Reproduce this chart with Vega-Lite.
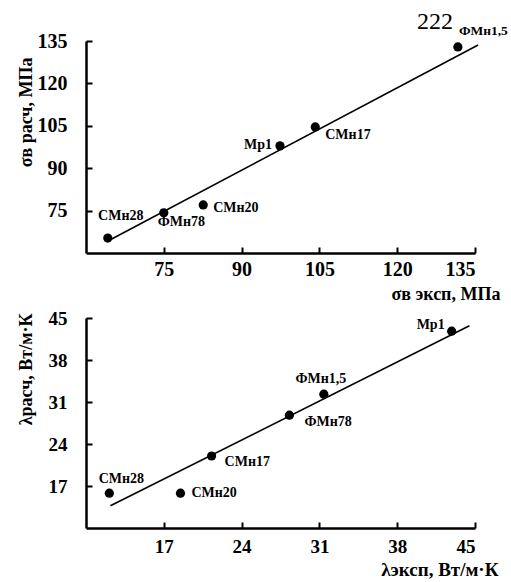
{
  "$schema": "https://vega.github.io/schema/vega-lite/v6.json",
  "padding": {"left": 16, "top": 9, "right": 0, "bottom": 2},
  "spacing": 6,
  "config": {
    "view": {"stroke": null},
    "font": "Liberation Serif",
    "axis": {
      "domainColor": "black", "domainWidth": 2.5, "tickColor": "black", "tickWidth": 2,
      "tickSize": -6, "labelColor": "black", "labelFont": "Liberation Serif", "labelFontWeight": "bold",
      "titleColor": "black", "titleFont": "Liberation Serif", "titleFontWeight": "bold", "grid": false
    },
    "text": {"font": "Liberation Serif", "fontWeight": "bold", "fontSize": 14, "color": "black", "baseline": "middle"}
  },
  "datasets": {
    "sig": [
      {"name": "СМн28", "exp": 64.2, "calc": 65.3},
      {"name": "ФМн78", "exp": 75.0, "calc": 74.2},
      {"name": "СМн20", "exp": 82.6, "calc": 77.0},
      {"name": "Мр1", "exp": 97.4, "calc": 97.9},
      {"name": "СМн17", "exp": 104.2, "calc": 104.6},
      {"name": "ФМн1,5", "exp": 131.7, "calc": 132.9}
    ],
    "sigLine": [
      {"exp": 64.5, "calc": 64.5},
      {"exp": 135.6, "calc": 133.6}
    ],
    "lam": [
      {"name": "СМн28", "exp": 12.1, "calc": 15.8},
      {"name": "СМн20", "exp": 18.5, "calc": 15.8},
      {"name": "СМн17", "exp": 21.3, "calc": 22.0},
      {"name": "ФМн78", "exp": 28.3, "calc": 28.8},
      {"name": "ФМн1,5", "exp": 31.4, "calc": 32.3},
      {"name": "Мр1", "exp": 42.9, "calc": 42.8}
    ],
    "lamLine": [
      {"exp": 12.2, "calc": 13.7},
      {"exp": 44.5, "calc": 43.7}
    ]
  },
  "vconcat": [
    {
      "width": 389, "height": 212,
      "title": {"text": "222", "anchor": "end", "frame": "group", "font": "Liberation Serif", "fontWeight": "normal", "fontSize": 24, "color": "black", "dx": -22, "offset": -10},
      "encoding": {
        "x": {"field": "exp", "type": "quantitative", "scale": {"domain": [60, 135], "nice": false, "zero": false},
          "axis": {"values": [75, 90, 105, 120, 135], "labelFontSize": 20, "labelPadding": 12, "title": "σв эксп, МПа", "titleFontSize": 18,
            "titleAlign": "right", "titleAnchor": "end", "titleX": 414, "titleY": 46, "titleBaseline": "alphabetic"}},
        "y": {"field": "calc", "type": "quantitative", "scale": {"domain": [60, 135], "nice": false, "zero": false},
          "axis": {"values": [75, 90, 105, 120, 135], "labelFontSize": 20, "labelPadding": 25, "title": "σв расч, МПа", "titleFontSize": 18,
            "titleAlign": "right", "titleY": 16, "titleX": -60, "titleBaseline": "middle"}}
      },
      "layer": [
        {"data": {"name": "sigLine"}, "mark": {"type": "line", "color": "black", "strokeWidth": 1.6}, "encoding": {}},
        {"data": {"name": "sig"}, "mark": {"type": "point", "filled": true, "color": "black", "opacity": 1, "size": 85}},
        {"data": {"name": "sig"}, "transform": [{"filter": "datum.name === 'СМн28'"}], "mark": {"type": "text", "align": "center", "dx": 13, "dy": -22}, "encoding": {"text": {"field": "name"}}},
        {"data": {"name": "sig"}, "transform": [{"filter": "datum.name === 'ФМн78'"}], "mark": {"type": "text", "align": "left", "dx": -6, "dy": 9}, "encoding": {"text": {"field": "name"}}},
        {"data": {"name": "sig"}, "transform": [{"filter": "datum.name === 'СМн20'"}], "mark": {"type": "text", "align": "left", "dx": 10, "dy": 3}, "encoding": {"text": {"field": "name"}}},
        {"data": {"name": "sig"}, "transform": [{"filter": "datum.name === 'Мр1'"}], "mark": {"type": "text", "align": "right", "dx": -8, "dy": -1}, "encoding": {"text": {"field": "name"}}},
        {"data": {"name": "sig"}, "transform": [{"filter": "datum.name === 'СМн17'"}], "mark": {"type": "text", "align": "left", "dx": 10, "dy": 8}, "encoding": {"text": {"field": "name"}}},
        {"data": {"name": "sig"}, "transform": [{"filter": "datum.name === 'ФМн1,5'"}], "mark": {"type": "text", "align": "left", "dx": 1, "dy": -16, "fontSize": 13.5}, "encoding": {"text": {"field": "name"}}}
      ]
    },
    {
      "width": 389, "height": 210,
      "encoding": {
        "x": {"field": "exp", "type": "quantitative", "scale": {"domain": [10, 45], "nice": false, "zero": false},
          "axis": {"values": [17, 24, 31, 38, 45], "labelFontSize": 19, "labelPadding": 15, "title": "λэксп, Вт/м·К", "titleFontSize": 19,
            "titleAlign": "right", "titleAnchor": "end", "titleX": 412, "titleY": 47, "titleBaseline": "alphabetic"}},
        "y": {"field": "calc", "type": "quantitative", "scale": {"domain": [10, 45], "nice": false, "zero": false},
          "axis": {"values": [17, 24, 31, 38, 45], "labelFontSize": 19, "labelPadding": 25, "title": "λрасч, Вт/м·К", "titleFontSize": 18,
            "titleAlign": "right", "titleY": -5, "titleX": -60, "titleBaseline": "middle"}}
      },
      "layer": [
        {"data": {"name": "lamLine"}, "mark": {"type": "line", "color": "black", "strokeWidth": 1.6}, "encoding": {}},
        {"data": {"name": "lam"}, "mark": {"type": "point", "filled": true, "color": "black", "opacity": 1, "size": 85}},
        {"data": {"name": "lam"}, "transform": [{"filter": "datum.name === 'СМн28'"}], "mark": {"type": "text", "align": "center", "dx": 12, "dy": -14}, "encoding": {"text": {"field": "name"}}},
        {"data": {"name": "lam"}, "transform": [{"filter": "datum.name === 'СМн20'"}], "mark": {"type": "text", "align": "left", "dx": 11, "dy": 0}, "encoding": {"text": {"field": "name"}}},
        {"data": {"name": "lam"}, "transform": [{"filter": "datum.name === 'СМн17'"}], "mark": {"type": "text", "align": "left", "dx": 13, "dy": 6}, "encoding": {"text": {"field": "name"}}},
        {"data": {"name": "lam"}, "transform": [{"filter": "datum.name === 'ФМн78'"}], "mark": {"type": "text", "align": "left", "dx": 15, "dy": 7}, "encoding": {"text": {"field": "name"}}},
        {"data": {"name": "lam"}, "transform": [{"filter": "datum.name === 'ФМн1,5'"}], "mark": {"type": "text", "align": "center", "dx": -3, "dy": -15}, "encoding": {"text": {"field": "name"}}},
        {"data": {"name": "lam"}, "transform": [{"filter": "datum.name === 'Мр1'"}], "mark": {"type": "text", "align": "right", "dx": -7, "dy": -6}, "encoding": {"text": {"field": "name"}}}
      ]
    }
  ]
}
